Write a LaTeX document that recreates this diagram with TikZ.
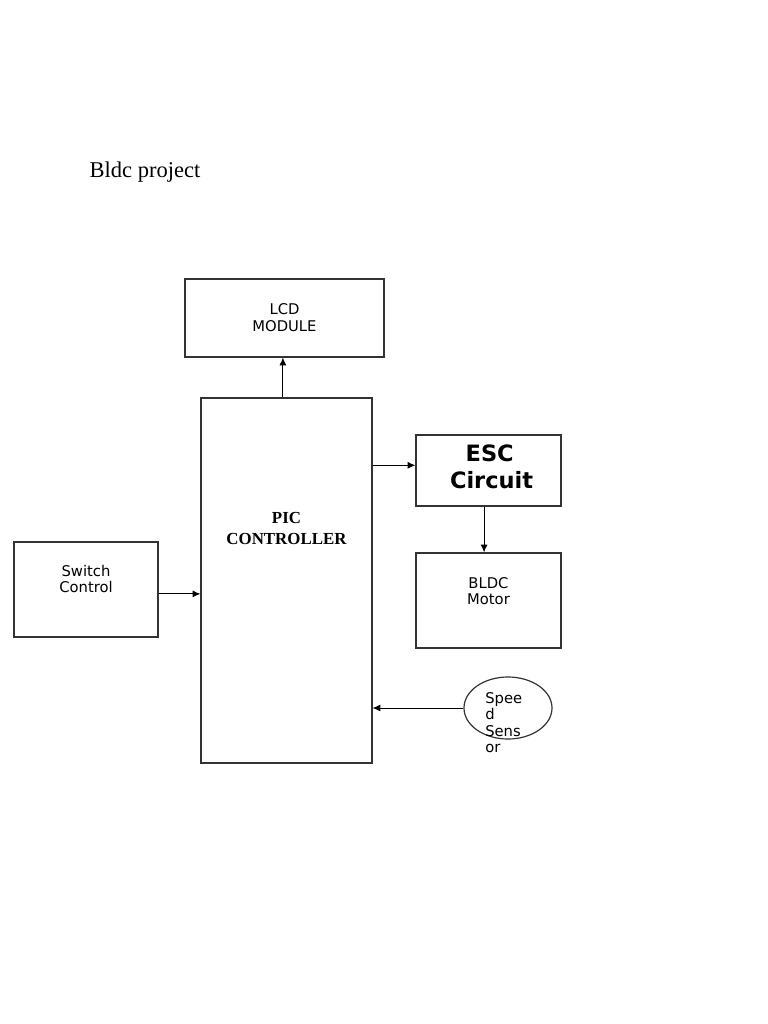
\documentclass[tikz,border=0pt]{standalone}
\usepackage{fontspec}
\setmainfont{Liberation Serif}
\newfontfamily\boxfont{DejaVu Sans}
\usetikzlibrary{arrows.meta, positioning, shapes.geometric}

\begin{document}
\begin{tikzpicture}[
    x=0.025cm, y=-0.025cm,
    box/.style={rectangle, draw=black!80, line width=0.85pt, inner sep=0pt, align=center, font=\boxfont\fontsize{10.5}{12}\selectfont},
    lbl/.style={align=center, inner sep=0pt, font=\boxfont\fontsize{10.5}{11.5}\selectfont},
    arrow/.style={-{Latex[length=5.5pt,width=5pt]}, line width=0.7pt}
]
    \useasboundingbox (0,0) rectangle (768,1024);

    % titel
    \node[font=\fontsize{16}{19}\selectfont] (title) at (145,172) {Bldc project};

    % LCD
    \node[box, minimum width=4.975cm, minimum height=1.95cm] (lcd) at (284.5,318) {LCD\\MODULE};

    % PIC controller
    \node[box, minimum width=4.275cm, minimum height=9.125cm] (pic) at (286.5,580.5) {};
    \node[lbl, font=\bfseries\fontsize{12}{15}\selectfont] (pictxt) at ([yshift=1.3cm]pic.center) {PIC\\CONTROLLER};

    % ESC
    \node[box, minimum width=3.625cm, minimum height=1.775cm] (esc) at (488.5,470.5) {};
    \node[lbl, font=\boxfont\bfseries\fontsize{16}{19}\selectfont] (esctxt) at ([xshift=0.03cm, yshift=0.1cm]esc.center) {ESC\\\,Circuit};

    % motor
    \node[box, minimum width=3.625cm, minimum height=2.375cm] (bldc) at (488.5,600.5) {};
    \node[lbl] (bldctxt) at ([yshift=0.24cm]bldc.center) {BLDC\\Motor};

    % switch
    \node[box, minimum width=3.6cm, minimum height=2.375cm] (sw) at (86,589.5) {};
    \node[lbl] (swtxt) at ([yshift=0.26cm]sw.center) {Switch\\Control};

    % speed sensor
    \node[ellipse, draw=black!80, line width=0.85pt, minimum width=2.2cm, minimum height=1.55cm, inner sep=0pt] (sensor) at (508,708) {};
    \node[anchor=north west, inner sep=0pt, align=left, font=\boxfont\fontsize{10.5}{11.7}\selectfont] (sensortxt) at (485,692) {Spee\\d\\Sens\\or};

    % arrows
    \draw[arrow] ([xshift=-0.09cm]pic.north) -- ([xshift=-0.09cm]pic.north |- lcd.south);
    \draw[arrow] ([yshift=0.13cm]esc.west -| pic.east) -- ([yshift=0.13cm]esc.west);
    \draw[arrow] ([xshift=-0.11cm]esc.south) -- ([xshift=-0.11cm]bldc.north);
    \draw[arrow] ([yshift=-0.11cm]sw.east) -- ([yshift=-0.11cm]sw.east -| pic.west);
    \draw[arrow] (sensor.west) -- (sensor.west -| pic.east);
\end{tikzpicture}
\end{document}
